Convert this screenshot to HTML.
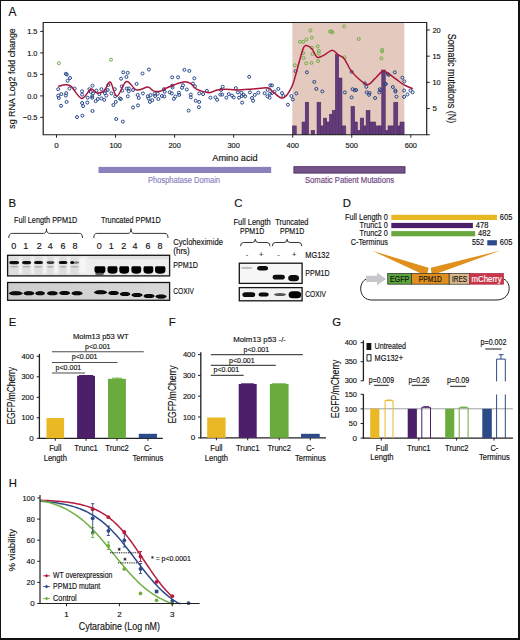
<!DOCTYPE html>
<html><head><meta charset="utf-8"><style>
html,body{margin:0;padding:0;background:#fff;width:520px;height:640px;overflow:hidden}
svg{display:block;position:absolute;left:0;top:0}
text{font-family:"Liberation Sans", sans-serif}
</style></head><body>
<svg width="520" height="640" viewBox="0 0 520 640">
<rect x="0" y="0" width="520" height="640" fill="#fff"/>
<rect x="292.30" y="22.50" width="112.00" height="112.25" fill="#e4c9be"/>
<rect x="292.30" y="125.90" width="4.00" height="8.85" fill="#643b7b" stroke="#4a2860" stroke-width="0.5"/>
<rect x="302.00" y="122.00" width="3.20" height="12.75" fill="#643b7b" stroke="#4a2860" stroke-width="0.5"/>
<rect x="305.20" y="102.20" width="3.55" height="32.55" fill="#643b7b" stroke="#4a2860" stroke-width="0.5"/>
<rect x="311.10" y="130.30" width="3.60" height="4.45" fill="#643b7b" stroke="#4a2860" stroke-width="0.5"/>
<rect x="317.00" y="102.20" width="3.80" height="32.55" fill="#643b7b" stroke="#4a2860" stroke-width="0.5"/>
<rect x="320.80" y="125.90" width="2.50" height="8.85" fill="#643b7b" stroke="#4a2860" stroke-width="0.5"/>
<rect x="323.30" y="118.10" width="3.40" height="16.65" fill="#643b7b" stroke="#4a2860" stroke-width="0.5"/>
<rect x="326.70" y="122.00" width="2.70" height="12.75" fill="#643b7b" stroke="#4a2860" stroke-width="0.5"/>
<rect x="329.40" y="114.20" width="2.80" height="20.55" fill="#643b7b" stroke="#4a2860" stroke-width="0.5"/>
<rect x="332.20" y="110.30" width="3.10" height="24.45" fill="#643b7b" stroke="#4a2860" stroke-width="0.5"/>
<rect x="335.30" y="54.40" width="3.45" height="80.35" fill="#643b7b" stroke="#4a2860" stroke-width="0.5"/>
<rect x="338.75" y="78.00" width="3.25" height="56.75" fill="#643b7b" stroke="#4a2860" stroke-width="0.5"/>
<rect x="342.00" y="125.90" width="3.80" height="8.85" fill="#643b7b" stroke="#4a2860" stroke-width="0.5"/>
<rect x="351.00" y="106.40" width="3.70" height="28.35" fill="#643b7b" stroke="#4a2860" stroke-width="0.5"/>
<rect x="354.70" y="122.00" width="2.80" height="12.75" fill="#643b7b" stroke="#4a2860" stroke-width="0.5"/>
<rect x="357.50" y="130.30" width="2.70" height="4.45" fill="#643b7b" stroke="#4a2860" stroke-width="0.5"/>
<rect x="360.20" y="118.10" width="3.55" height="16.65" fill="#643b7b" stroke="#4a2860" stroke-width="0.5"/>
<rect x="363.75" y="125.90" width="2.35" height="8.85" fill="#643b7b" stroke="#4a2860" stroke-width="0.5"/>
<rect x="366.10" y="110.30" width="3.90" height="24.45" fill="#643b7b" stroke="#4a2860" stroke-width="0.5"/>
<rect x="370.00" y="122.00" width="2.80" height="12.75" fill="#643b7b" stroke="#4a2860" stroke-width="0.5"/>
<rect x="372.80" y="122.00" width="3.00" height="12.75" fill="#643b7b" stroke="#4a2860" stroke-width="0.5"/>
<rect x="375.80" y="125.90" width="3.20" height="8.85" fill="#643b7b" stroke="#4a2860" stroke-width="0.5"/>
<rect x="379.00" y="125.90" width="2.70" height="8.85" fill="#643b7b" stroke="#4a2860" stroke-width="0.5"/>
<rect x="381.70" y="70.00" width="3.60" height="64.75" fill="#643b7b" stroke="#4a2860" stroke-width="0.5"/>
<rect x="385.30" y="130.30" width="2.70" height="4.45" fill="#643b7b" stroke="#4a2860" stroke-width="0.5"/>
<rect x="388.00" y="125.90" width="3.10" height="8.85" fill="#643b7b" stroke="#4a2860" stroke-width="0.5"/>
<rect x="391.10" y="125.90" width="2.65" height="8.85" fill="#643b7b" stroke="#4a2860" stroke-width="0.5"/>
<rect x="393.75" y="102.20" width="4.05" height="32.55" fill="#643b7b" stroke="#4a2860" stroke-width="0.5"/>
<rect x="397.80" y="125.90" width="2.20" height="8.85" fill="#643b7b" stroke="#4a2860" stroke-width="0.5"/>
<rect x="400.00" y="122.00" width="4.10" height="12.75" fill="#643b7b" stroke="#4a2860" stroke-width="0.5"/>
<circle cx="65.8" cy="73.8" r="1.5" fill="none" stroke="#27478a" stroke-width="1.0"/>
<circle cx="66.9" cy="74.5" r="1.5" fill="none" stroke="#27478a" stroke-width="1.0"/>
<circle cx="70" cy="78" r="1.5" fill="none" stroke="#27478a" stroke-width="1.0"/>
<circle cx="67.6" cy="80.8" r="1.5" fill="none" stroke="#27478a" stroke-width="1.0"/>
<circle cx="58.2" cy="89.2" r="1.5" fill="none" stroke="#27478a" stroke-width="1.0"/>
<circle cx="69.4" cy="88.5" r="1.5" fill="none" stroke="#27478a" stroke-width="1.0"/>
<circle cx="74.6" cy="88.5" r="1.5" fill="none" stroke="#27478a" stroke-width="1.0"/>
<circle cx="58.2" cy="95.6" r="1.5" fill="none" stroke="#27478a" stroke-width="1.0"/>
<circle cx="61.3" cy="94.1" r="1.5" fill="none" stroke="#27478a" stroke-width="1.0"/>
<circle cx="58.8" cy="98" r="1.5" fill="none" stroke="#27478a" stroke-width="1.0"/>
<circle cx="66.2" cy="93.2" r="1.5" fill="none" stroke="#27478a" stroke-width="1.0"/>
<circle cx="65.8" cy="95.6" r="1.5" fill="none" stroke="#27478a" stroke-width="1.0"/>
<circle cx="66.6" cy="101.9" r="1.5" fill="none" stroke="#27478a" stroke-width="1.0"/>
<circle cx="61" cy="105.8" r="1.5" fill="none" stroke="#27478a" stroke-width="1.0"/>
<circle cx="82.1" cy="91.3" r="1.5" fill="none" stroke="#27478a" stroke-width="1.0"/>
<circle cx="82.1" cy="94.6" r="1.5" fill="none" stroke="#27478a" stroke-width="1.0"/>
<circle cx="82.1" cy="103" r="1.5" fill="none" stroke="#27478a" stroke-width="1.0"/>
<circle cx="83.1" cy="106.1" r="1.5" fill="none" stroke="#27478a" stroke-width="1.0"/>
<circle cx="87.7" cy="97.7" r="1.5" fill="none" stroke="#27478a" stroke-width="1.0"/>
<circle cx="87.3" cy="102.6" r="1.5" fill="none" stroke="#27478a" stroke-width="1.0"/>
<circle cx="92.5" cy="85.7" r="1.5" fill="none" stroke="#27478a" stroke-width="1.0"/>
<circle cx="89.4" cy="89.2" r="1.5" fill="none" stroke="#27478a" stroke-width="1.0"/>
<circle cx="90.8" cy="92" r="1.5" fill="none" stroke="#27478a" stroke-width="1.0"/>
<circle cx="93" cy="93.4" r="1.5" fill="none" stroke="#27478a" stroke-width="1.0"/>
<circle cx="92.2" cy="96.3" r="1.5" fill="none" stroke="#27478a" stroke-width="1.0"/>
<circle cx="96.4" cy="90.6" r="1.5" fill="none" stroke="#27478a" stroke-width="1.0"/>
<circle cx="99.3" cy="94.1" r="1.5" fill="none" stroke="#27478a" stroke-width="1.0"/>
<circle cx="95.7" cy="101.2" r="1.5" fill="none" stroke="#27478a" stroke-width="1.0"/>
<circle cx="97.9" cy="99" r="1.5" fill="none" stroke="#27478a" stroke-width="1.0"/>
<circle cx="101.4" cy="89.2" r="1.5" fill="none" stroke="#27478a" stroke-width="1.0"/>
<circle cx="101.4" cy="98.4" r="1.5" fill="none" stroke="#27478a" stroke-width="1.0"/>
<circle cx="92.5" cy="111" r="1.5" fill="none" stroke="#27478a" stroke-width="1.0"/>
<circle cx="77" cy="117.1" r="1.5" fill="none" stroke="#27478a" stroke-width="1.0"/>
<circle cx="82.4" cy="115.7" r="1.5" fill="none" stroke="#27478a" stroke-width="1.0"/>
<circle cx="92.2" cy="97.7" r="1.5" fill="none" stroke="#27478a" stroke-width="1.0"/>
<circle cx="123.2" cy="72.3" r="1.5" fill="none" stroke="#27478a" stroke-width="1.0"/>
<circle cx="127.7" cy="72.8" r="1.5" fill="none" stroke="#27478a" stroke-width="1.0"/>
<circle cx="126.4" cy="77" r="1.5" fill="none" stroke="#27478a" stroke-width="1.0"/>
<circle cx="121.1" cy="78.7" r="1.5" fill="none" stroke="#27478a" stroke-width="1.0"/>
<circle cx="142.5" cy="73.5" r="1.5" fill="none" stroke="#27478a" stroke-width="1.0"/>
<circle cx="148.9" cy="69.5" r="1.5" fill="none" stroke="#27478a" stroke-width="1.0"/>
<circle cx="136.6" cy="83.9" r="1.5" fill="none" stroke="#27478a" stroke-width="1.0"/>
<circle cx="105.6" cy="90.6" r="1.5" fill="none" stroke="#27478a" stroke-width="1.0"/>
<circle cx="107.7" cy="90" r="1.5" fill="none" stroke="#27478a" stroke-width="1.0"/>
<circle cx="104.9" cy="93.2" r="1.5" fill="none" stroke="#27478a" stroke-width="1.0"/>
<circle cx="106.3" cy="95.6" r="1.5" fill="none" stroke="#27478a" stroke-width="1.0"/>
<circle cx="104.2" cy="99.8" r="1.5" fill="none" stroke="#27478a" stroke-width="1.0"/>
<circle cx="108.4" cy="85" r="1.5" fill="none" stroke="#27478a" stroke-width="1.0"/>
<circle cx="111.3" cy="93.4" r="1.5" fill="none" stroke="#27478a" stroke-width="1.0"/>
<circle cx="114.8" cy="89.2" r="1.5" fill="none" stroke="#27478a" stroke-width="1.0"/>
<circle cx="115.2" cy="96.3" r="1.5" fill="none" stroke="#27478a" stroke-width="1.0"/>
<circle cx="115.8" cy="101.9" r="1.5" fill="none" stroke="#27478a" stroke-width="1.0"/>
<circle cx="113.4" cy="105" r="1.5" fill="none" stroke="#27478a" stroke-width="1.0"/>
<circle cx="119.7" cy="98.4" r="1.5" fill="none" stroke="#27478a" stroke-width="1.0"/>
<circle cx="120.8" cy="99" r="1.5" fill="none" stroke="#27478a" stroke-width="1.0"/>
<circle cx="121.8" cy="86.4" r="1.5" fill="none" stroke="#27478a" stroke-width="1.0"/>
<circle cx="122.2" cy="90.6" r="1.5" fill="none" stroke="#27478a" stroke-width="1.0"/>
<circle cx="126.7" cy="88.5" r="1.5" fill="none" stroke="#27478a" stroke-width="1.0"/>
<circle cx="128.8" cy="88.5" r="1.5" fill="none" stroke="#27478a" stroke-width="1.0"/>
<circle cx="128.8" cy="91.3" r="1.5" fill="none" stroke="#27478a" stroke-width="1.0"/>
<circle cx="133" cy="90" r="1.5" fill="none" stroke="#27478a" stroke-width="1.0"/>
<circle cx="127.8" cy="96.3" r="1.5" fill="none" stroke="#27478a" stroke-width="1.0"/>
<circle cx="137.7" cy="94.9" r="1.5" fill="none" stroke="#27478a" stroke-width="1.0"/>
<circle cx="138.7" cy="98" r="1.5" fill="none" stroke="#27478a" stroke-width="1.0"/>
<circle cx="138" cy="105.4" r="1.5" fill="none" stroke="#27478a" stroke-width="1.0"/>
<circle cx="133" cy="107.5" r="1.5" fill="none" stroke="#27478a" stroke-width="1.0"/>
<circle cx="142.9" cy="93.4" r="1.5" fill="none" stroke="#27478a" stroke-width="1.0"/>
<circle cx="147.8" cy="96.3" r="1.5" fill="none" stroke="#27478a" stroke-width="1.0"/>
<circle cx="148.5" cy="98.4" r="1.5" fill="none" stroke="#27478a" stroke-width="1.0"/>
<circle cx="150.6" cy="95.1" r="1.5" fill="none" stroke="#27478a" stroke-width="1.0"/>
<circle cx="149.9" cy="101.9" r="1.5" fill="none" stroke="#27478a" stroke-width="1.0"/>
<circle cx="152.3" cy="100.2" r="1.5" fill="none" stroke="#27478a" stroke-width="1.0"/>
<circle cx="154.6" cy="93.7" r="1.5" fill="none" stroke="#27478a" stroke-width="1.0"/>
<circle cx="155.1" cy="96" r="1.5" fill="none" stroke="#27478a" stroke-width="1.0"/>
<circle cx="157.7" cy="93.7" r="1.5" fill="none" stroke="#27478a" stroke-width="1.0"/>
<circle cx="158.4" cy="99" r="1.5" fill="none" stroke="#27478a" stroke-width="1.0"/>
<circle cx="116.2" cy="119" r="1.5" fill="none" stroke="#27478a" stroke-width="1.0"/>
<circle cx="122.8" cy="121.6" r="1.5" fill="none" stroke="#27478a" stroke-width="1.0"/>
<circle cx="184.4" cy="69.8" r="1.5" fill="none" stroke="#27478a" stroke-width="1.0"/>
<circle cx="189.3" cy="70.9" r="1.5" fill="none" stroke="#27478a" stroke-width="1.0"/>
<circle cx="172.2" cy="77.3" r="1.5" fill="none" stroke="#27478a" stroke-width="1.0"/>
<circle cx="178.1" cy="77.3" r="1.5" fill="none" stroke="#27478a" stroke-width="1.0"/>
<circle cx="194.3" cy="78.3" r="1.5" fill="none" stroke="#27478a" stroke-width="1.0"/>
<circle cx="192.9" cy="83.6" r="1.5" fill="none" stroke="#27478a" stroke-width="1.0"/>
<circle cx="195" cy="86.4" r="1.5" fill="none" stroke="#27478a" stroke-width="1.0"/>
<circle cx="172.2" cy="85.7" r="1.5" fill="none" stroke="#27478a" stroke-width="1.0"/>
<circle cx="172.5" cy="87.5" r="1.5" fill="none" stroke="#27478a" stroke-width="1.0"/>
<circle cx="183" cy="85.3" r="1.5" fill="none" stroke="#27478a" stroke-width="1.0"/>
<circle cx="182" cy="87.8" r="1.5" fill="none" stroke="#27478a" stroke-width="1.0"/>
<circle cx="186.8" cy="89.5" r="1.5" fill="none" stroke="#27478a" stroke-width="1.0"/>
<circle cx="164" cy="89.2" r="1.5" fill="none" stroke="#27478a" stroke-width="1.0"/>
<circle cx="164.7" cy="91.8" r="1.5" fill="none" stroke="#27478a" stroke-width="1.0"/>
<circle cx="161.9" cy="96" r="1.5" fill="none" stroke="#27478a" stroke-width="1.0"/>
<circle cx="164.3" cy="96.5" r="1.5" fill="none" stroke="#27478a" stroke-width="1.0"/>
<circle cx="169.7" cy="92.3" r="1.5" fill="none" stroke="#27478a" stroke-width="1.0"/>
<circle cx="171.8" cy="93.4" r="1.5" fill="none" stroke="#27478a" stroke-width="1.0"/>
<circle cx="178.8" cy="92.7" r="1.5" fill="none" stroke="#27478a" stroke-width="1.0"/>
<circle cx="179.2" cy="94.9" r="1.5" fill="none" stroke="#27478a" stroke-width="1.0"/>
<circle cx="175.3" cy="96.5" r="1.5" fill="none" stroke="#27478a" stroke-width="1.0"/>
<circle cx="173.9" cy="98.8" r="1.5" fill="none" stroke="#27478a" stroke-width="1.0"/>
<circle cx="190.8" cy="94.6" r="1.5" fill="none" stroke="#27478a" stroke-width="1.0"/>
<circle cx="190.8" cy="97.4" r="1.5" fill="none" stroke="#27478a" stroke-width="1.0"/>
<circle cx="195.7" cy="100.8" r="1.5" fill="none" stroke="#27478a" stroke-width="1.0"/>
<circle cx="199.2" cy="101.9" r="1.5" fill="none" stroke="#27478a" stroke-width="1.0"/>
<circle cx="199.2" cy="93.4" r="1.5" fill="none" stroke="#27478a" stroke-width="1.0"/>
<circle cx="203.1" cy="94.1" r="1.5" fill="none" stroke="#27478a" stroke-width="1.0"/>
<circle cx="206.9" cy="90.9" r="1.5" fill="none" stroke="#27478a" stroke-width="1.0"/>
<circle cx="210.4" cy="97.7" r="1.5" fill="none" stroke="#27478a" stroke-width="1.0"/>
<circle cx="215.4" cy="97.4" r="1.5" fill="none" stroke="#27478a" stroke-width="1.0"/>
<circle cx="198.9" cy="107.2" r="1.5" fill="none" stroke="#27478a" stroke-width="1.0"/>
<circle cx="188.6" cy="110.6" r="1.5" fill="none" stroke="#27478a" stroke-width="1.0"/>
<circle cx="249.2" cy="76.8" r="1.5" fill="none" stroke="#27478a" stroke-width="1.0"/>
<circle cx="222.7" cy="86.7" r="1.5" fill="none" stroke="#27478a" stroke-width="1.0"/>
<circle cx="221" cy="89.9" r="1.5" fill="none" stroke="#27478a" stroke-width="1.0"/>
<circle cx="235.8" cy="88.1" r="1.5" fill="none" stroke="#27478a" stroke-width="1.0"/>
<circle cx="270.3" cy="85.3" r="1.5" fill="none" stroke="#27478a" stroke-width="1.0"/>
<circle cx="267.7" cy="89.9" r="1.5" fill="none" stroke="#27478a" stroke-width="1.0"/>
<circle cx="217.1" cy="99.8" r="1.5" fill="none" stroke="#27478a" stroke-width="1.0"/>
<circle cx="220.3" cy="94.6" r="1.5" fill="none" stroke="#27478a" stroke-width="1.0"/>
<circle cx="222.2" cy="94.6" r="1.5" fill="none" stroke="#27478a" stroke-width="1.0"/>
<circle cx="226.4" cy="97.7" r="1.5" fill="none" stroke="#27478a" stroke-width="1.0"/>
<circle cx="228.8" cy="94.1" r="1.5" fill="none" stroke="#27478a" stroke-width="1.0"/>
<circle cx="232" cy="95.6" r="1.5" fill="none" stroke="#27478a" stroke-width="1.0"/>
<circle cx="233.7" cy="97.4" r="1.5" fill="none" stroke="#27478a" stroke-width="1.0"/>
<circle cx="237.9" cy="92.3" r="1.5" fill="none" stroke="#27478a" stroke-width="1.0"/>
<circle cx="239" cy="97.7" r="1.5" fill="none" stroke="#27478a" stroke-width="1.0"/>
<circle cx="241.4" cy="92.7" r="1.5" fill="none" stroke="#27478a" stroke-width="1.0"/>
<circle cx="241.8" cy="96" r="1.5" fill="none" stroke="#27478a" stroke-width="1.0"/>
<circle cx="243.5" cy="94.9" r="1.5" fill="none" stroke="#27478a" stroke-width="1.0"/>
<circle cx="245.2" cy="96.3" r="1.5" fill="none" stroke="#27478a" stroke-width="1.0"/>
<circle cx="249.9" cy="92.3" r="1.5" fill="none" stroke="#27478a" stroke-width="1.0"/>
<circle cx="252" cy="98" r="1.5" fill="none" stroke="#27478a" stroke-width="1.0"/>
<circle cx="253.1" cy="100.8" r="1.5" fill="none" stroke="#27478a" stroke-width="1.0"/>
<circle cx="254.8" cy="94.9" r="1.5" fill="none" stroke="#27478a" stroke-width="1.0"/>
<circle cx="258.3" cy="92.7" r="1.5" fill="none" stroke="#27478a" stroke-width="1.0"/>
<circle cx="264.6" cy="93.2" r="1.5" fill="none" stroke="#27478a" stroke-width="1.0"/>
<circle cx="267.4" cy="96.3" r="1.5" fill="none" stroke="#27478a" stroke-width="1.0"/>
<circle cx="270" cy="93.7" r="1.5" fill="none" stroke="#27478a" stroke-width="1.0"/>
<circle cx="269.6" cy="97.7" r="1.5" fill="none" stroke="#27478a" stroke-width="1.0"/>
<circle cx="242.1" cy="102.6" r="1.5" fill="none" stroke="#27478a" stroke-width="1.0"/>
<circle cx="295.6" cy="71.3" r="1.5" fill="none" stroke="#27478a" stroke-width="1.0"/>
<circle cx="306.9" cy="72.3" r="1.5" fill="none" stroke="#27478a" stroke-width="1.0"/>
<circle cx="314.3" cy="81.9" r="1.5" fill="none" stroke="#27478a" stroke-width="1.0"/>
<circle cx="316.3" cy="88.9" r="1.5" fill="none" stroke="#27478a" stroke-width="1.0"/>
<circle cx="322.3" cy="91.4" r="1.5" fill="none" stroke="#27478a" stroke-width="1.0"/>
<circle cx="296.3" cy="93.4" r="1.5" fill="none" stroke="#27478a" stroke-width="1.0"/>
<circle cx="291.4" cy="96" r="1.5" fill="none" stroke="#27478a" stroke-width="1.0"/>
<circle cx="292.8" cy="99.5" r="1.5" fill="none" stroke="#27478a" stroke-width="1.0"/>
<circle cx="287.9" cy="104.7" r="1.5" fill="none" stroke="#27478a" stroke-width="1.0"/>
<circle cx="278.3" cy="88.9" r="1.5" fill="none" stroke="#27478a" stroke-width="1.0"/>
<circle cx="274.5" cy="91.7" r="1.5" fill="none" stroke="#27478a" stroke-width="1.0"/>
<circle cx="282" cy="93.1" r="1.5" fill="none" stroke="#27478a" stroke-width="1.0"/>
<circle cx="283.4" cy="96" r="1.5" fill="none" stroke="#27478a" stroke-width="1.0"/>
<circle cx="272" cy="85.4" r="1.5" fill="none" stroke="#27478a" stroke-width="1.0"/>
<circle cx="272" cy="93.1" r="1.5" fill="none" stroke="#27478a" stroke-width="1.0"/>
<circle cx="351.6" cy="71.8" r="1.5" fill="none" stroke="#27478a" stroke-width="1.0"/>
<circle cx="364.8" cy="83.3" r="1.5" fill="none" stroke="#27478a" stroke-width="1.0"/>
<circle cx="366.3" cy="86.8" r="1.5" fill="none" stroke="#27478a" stroke-width="1.0"/>
<circle cx="344.9" cy="92.4" r="1.5" fill="none" stroke="#27478a" stroke-width="1.0"/>
<circle cx="352.6" cy="89.2" r="1.5" fill="none" stroke="#27478a" stroke-width="1.0"/>
<circle cx="354.7" cy="90.3" r="1.5" fill="none" stroke="#27478a" stroke-width="1.0"/>
<circle cx="356.1" cy="90" r="1.5" fill="none" stroke="#27478a" stroke-width="1.0"/>
<circle cx="351.6" cy="97.4" r="1.5" fill="none" stroke="#27478a" stroke-width="1.0"/>
<circle cx="366.7" cy="92.4" r="1.5" fill="none" stroke="#27478a" stroke-width="1.0"/>
<circle cx="369.5" cy="92.9" r="1.5" fill="none" stroke="#27478a" stroke-width="1.0"/>
<circle cx="369.1" cy="94.8" r="1.5" fill="none" stroke="#27478a" stroke-width="1.0"/>
<circle cx="375.1" cy="98" r="1.5" fill="none" stroke="#27478a" stroke-width="1.0"/>
<circle cx="379.8" cy="89.2" r="1.5" fill="none" stroke="#27478a" stroke-width="1.0"/>
<circle cx="379.3" cy="92.4" r="1.5" fill="none" stroke="#27478a" stroke-width="1.0"/>
<circle cx="385.7" cy="84" r="1.5" fill="none" stroke="#27478a" stroke-width="1.0"/>
<circle cx="387.8" cy="74.1" r="1.5" fill="none" stroke="#27478a" stroke-width="1.0"/>
<circle cx="394.8" cy="72.3" r="1.5" fill="none" stroke="#27478a" stroke-width="1.0"/>
<circle cx="388.8" cy="74.8" r="1.5" fill="none" stroke="#27478a" stroke-width="1.0"/>
<circle cx="402.4" cy="77.7" r="1.5" fill="none" stroke="#27478a" stroke-width="1.0"/>
<circle cx="404.3" cy="81.4" r="1.5" fill="none" stroke="#27478a" stroke-width="1.0"/>
<circle cx="385.5" cy="84" r="1.5" fill="none" stroke="#27478a" stroke-width="1.0"/>
<circle cx="392.9" cy="87" r="1.5" fill="none" stroke="#27478a" stroke-width="1.0"/>
<circle cx="395.3" cy="90.5" r="1.5" fill="none" stroke="#27478a" stroke-width="1.0"/>
<circle cx="395.5" cy="91.6" r="1.5" fill="none" stroke="#27478a" stroke-width="1.0"/>
<circle cx="404.1" cy="90.5" r="1.5" fill="none" stroke="#27478a" stroke-width="1.0"/>
<circle cx="410.4" cy="90.5" r="1.5" fill="none" stroke="#27478a" stroke-width="1.0"/>
<circle cx="412.6" cy="92.3" r="1.5" fill="none" stroke="#27478a" stroke-width="1.0"/>
<circle cx="407.4" cy="94.5" r="1.5" fill="none" stroke="#27478a" stroke-width="1.0"/>
<circle cx="404.1" cy="96.9" r="1.5" fill="none" stroke="#27478a" stroke-width="1.0"/>
<circle cx="396.4" cy="96.7" r="1.5" fill="none" stroke="#27478a" stroke-width="1.0"/>
<circle cx="380.5" cy="90.3" r="1.5" fill="none" stroke="#27478a" stroke-width="1.0"/>
<circle cx="58.8" cy="63.2" r="1.5" fill="none" stroke="#6fae45" stroke-width="1.0"/>
<circle cx="111" cy="59.7" r="1.5" fill="none" stroke="#6fae45" stroke-width="1.0"/>
<circle cx="310.4" cy="30.5" r="1.5" fill="none" stroke="#6fae45" stroke-width="1.0"/>
<circle cx="330.1" cy="31.5" r="1.5" fill="none" stroke="#6fae45" stroke-width="1.0"/>
<circle cx="311.8" cy="37.6" r="1.5" fill="none" stroke="#6fae45" stroke-width="1.0"/>
<circle cx="306.4" cy="39.4" r="1.5" fill="none" stroke="#6fae45" stroke-width="1.0"/>
<circle cx="299.8" cy="41.8" r="1.5" fill="none" stroke="#6fae45" stroke-width="1.0"/>
<circle cx="303.1" cy="41.8" r="1.5" fill="none" stroke="#6fae45" stroke-width="1.0"/>
<circle cx="317.7" cy="46.4" r="1.5" fill="none" stroke="#6fae45" stroke-width="1.0"/>
<circle cx="311.8" cy="47.8" r="1.5" fill="none" stroke="#6fae45" stroke-width="1.0"/>
<circle cx="318.8" cy="50.9" r="1.5" fill="none" stroke="#6fae45" stroke-width="1.0"/>
<circle cx="303.1" cy="53" r="1.5" fill="none" stroke="#6fae45" stroke-width="1.0"/>
<circle cx="318.8" cy="53.5" r="1.5" fill="none" stroke="#6fae45" stroke-width="1.0"/>
<circle cx="312.5" cy="54" r="1.5" fill="none" stroke="#6fae45" stroke-width="1.0"/>
<circle cx="303.6" cy="58" r="1.5" fill="none" stroke="#6fae45" stroke-width="1.0"/>
<circle cx="306.2" cy="63.3" r="1.5" fill="none" stroke="#6fae45" stroke-width="1.0"/>
<circle cx="311.5" cy="62.9" r="1.5" fill="none" stroke="#6fae45" stroke-width="1.0"/>
<circle cx="318.1" cy="61.1" r="1.5" fill="none" stroke="#6fae45" stroke-width="1.0"/>
<circle cx="294.9" cy="65.3" r="1.5" fill="none" stroke="#6fae45" stroke-width="1.0"/>
<circle cx="344.2" cy="26.3" r="1.5" fill="none" stroke="#6fae45" stroke-width="1.0"/>
<circle cx="331.5" cy="31.5" r="1.5" fill="none" stroke="#6fae45" stroke-width="1.0"/>
<circle cx="332.5" cy="32.4" r="1.5" fill="none" stroke="#6fae45" stroke-width="1.0"/>
<circle cx="358.7" cy="39" r="1.5" fill="none" stroke="#6fae45" stroke-width="1.0"/>
<circle cx="382.1" cy="49.8" r="1.5" fill="none" stroke="#6fae45" stroke-width="1.0"/>
<circle cx="382.1" cy="51.6" r="1.5" fill="none" stroke="#6fae45" stroke-width="1.0"/>
<circle cx="381.4" cy="58.3" r="1.5" fill="none" stroke="#6fae45" stroke-width="1.0"/>
<circle cx="344.6" cy="57.3" r="1.5" fill="none" stroke="#6fae45" stroke-width="1.0"/>
<path d="M58.20,86.40 C59.42,86.12 63.35,84.70 65.50,84.70 C67.65,84.70 68.40,84.12 71.10,86.40 C73.80,88.68 78.42,97.93 81.70,98.40 C84.98,98.87 88.35,90.15 90.80,89.20 C93.25,88.25 94.37,92.27 96.40,92.70 C98.43,93.13 101.47,92.50 103.00,91.80 C104.53,91.10 104.35,90.10 105.60,88.50 C106.85,86.90 108.62,80.90 110.50,82.20 C112.38,83.50 114.25,96.42 116.90,96.30 C119.55,96.18 123.12,82.55 126.40,81.50 C129.68,80.45 133.03,89.07 136.60,90.00 C140.17,90.93 145.00,86.95 147.80,87.10 C150.60,87.25 151.37,90.20 153.40,90.90 C155.43,91.60 158.00,91.70 160.00,91.30 C162.00,90.90 163.08,89.55 165.40,88.50 C167.72,87.45 170.85,86.10 173.90,85.00 C176.95,83.90 180.88,82.13 183.70,81.90 C186.52,81.67 188.68,82.38 190.80,83.60 C192.92,84.82 193.37,87.68 196.40,89.20 C199.43,90.72 205.57,92.58 209.00,92.70 C212.43,92.82 214.28,90.48 217.00,89.90 C219.72,89.32 222.05,89.18 225.30,89.20 C228.55,89.22 232.28,90.00 236.50,90.00 C240.72,90.00 245.68,89.57 250.60,89.20 C255.52,88.83 262.83,87.92 266.00,87.80 C269.17,87.68 268.27,87.68 269.60,88.50 C270.93,89.32 271.77,91.12 274.00,92.70 C276.23,94.28 279.98,99.10 283.00,98.00 C286.02,96.90 289.42,92.07 292.10,86.10 C294.78,80.13 297.23,68.53 299.10,62.20 C300.97,55.87 302.12,50.87 303.30,48.10 C304.48,45.33 304.78,45.48 306.20,45.60 C307.62,45.72 309.93,46.85 311.80,48.80 C313.67,50.75 315.30,56.28 317.40,57.30 C319.50,58.32 321.93,56.08 324.40,54.90 C326.87,53.72 329.97,50.27 332.20,50.20 C334.43,50.13 335.80,53.08 337.80,54.50 C339.80,55.92 342.08,56.13 344.20,58.70 C346.32,61.27 348.28,66.73 350.50,69.90 C352.72,73.07 354.68,75.23 357.50,77.70 C360.32,80.17 364.58,84.47 367.40,84.70 C370.22,84.93 371.85,81.35 374.40,79.10 C376.95,76.85 380.30,72.07 382.70,71.20 C385.10,70.33 386.52,72.53 388.80,73.90 C391.08,75.27 393.85,77.57 396.40,79.40 C398.95,81.23 401.37,83.35 404.10,84.90 C406.83,86.45 411.35,88.07 412.80,88.70" fill="none" stroke="#a9163a" stroke-width="1.5"/>
<path d="M43.2,22.5 H426.7 V134.75 H43.2 Z" fill="none" stroke="#231f20" stroke-width="1.2"/>
<line x1="40.2" y1="31.400000000000006" x2="43.2" y2="31.400000000000006" stroke="#231f20" stroke-width="1"/>
<text x="37.5" y="34.00000000000001" font-size="7.99" text-anchor="end" fill="#111" stroke="#111" stroke-width="0.15" textLength="10.29" lengthAdjust="spacingAndGlyphs">1.5</text>
<line x1="40.2" y1="52.900000000000006" x2="43.2" y2="52.900000000000006" stroke="#231f20" stroke-width="1"/>
<text x="37.5" y="55.50000000000001" font-size="7.99" text-anchor="end" fill="#111" stroke="#111" stroke-width="0.15" textLength="10.29" lengthAdjust="spacingAndGlyphs">1.0</text>
<line x1="40.2" y1="74.4" x2="43.2" y2="74.4" stroke="#231f20" stroke-width="1"/>
<text x="37.5" y="77.0" font-size="7.99" text-anchor="end" fill="#111" stroke="#111" stroke-width="0.15" textLength="10.29" lengthAdjust="spacingAndGlyphs">0.5</text>
<line x1="40.2" y1="95.9" x2="43.2" y2="95.9" stroke="#231f20" stroke-width="1"/>
<text x="37.5" y="98.5" font-size="7.99" text-anchor="end" fill="#111" stroke="#111" stroke-width="0.15" textLength="10.29" lengthAdjust="spacingAndGlyphs">0.0</text>
<line x1="40.2" y1="117.4" x2="43.2" y2="117.4" stroke="#231f20" stroke-width="1"/>
<text x="37.5" y="120.0" font-size="7.99" text-anchor="end" fill="#111" stroke="#111" stroke-width="0.15" textLength="14.61" lengthAdjust="spacingAndGlyphs">−0.5</text>
<line x1="426.7" y1="108.55" x2="429.8" y2="108.55" stroke="#231f20" stroke-width="1"/>
<text x="432.5" y="111.14999999999999" font-size="7.99" text-anchor="start" fill="#111" stroke="#111" stroke-width="0.15">5</text>
<line x1="426.7" y1="82.35" x2="429.8" y2="82.35" stroke="#231f20" stroke-width="1"/>
<text x="432.5" y="84.94999999999999" font-size="7.99" text-anchor="start" fill="#111" stroke="#111" stroke-width="0.15" textLength="8.23" lengthAdjust="spacingAndGlyphs">10</text>
<line x1="426.7" y1="56.14999999999999" x2="429.8" y2="56.14999999999999" stroke="#231f20" stroke-width="1"/>
<text x="432.5" y="58.74999999999999" font-size="7.99" text-anchor="start" fill="#111" stroke="#111" stroke-width="0.15" textLength="8.23" lengthAdjust="spacingAndGlyphs">15</text>
<line x1="426.7" y1="29.94999999999999" x2="429.8" y2="29.94999999999999" stroke="#231f20" stroke-width="1"/>
<text x="432.5" y="32.54999999999999" font-size="7.99" text-anchor="start" fill="#111" stroke="#111" stroke-width="0.15" textLength="8.23" lengthAdjust="spacingAndGlyphs">20</text>
<line x1="426.7" y1="134.75" x2="429.8" y2="134.75" stroke="#231f20" stroke-width="1"/>
<line x1="56.5" y1="134.75" x2="56.5" y2="137.7" stroke="#231f20" stroke-width="1"/>
<text x="56.5" y="148" font-size="7.99" text-anchor="middle" fill="#111" stroke="#111" stroke-width="0.15">0</text>
<line x1="115.55000000000001" y1="134.75" x2="115.55000000000001" y2="137.7" stroke="#231f20" stroke-width="1"/>
<text x="115.55000000000001" y="148" font-size="7.99" text-anchor="middle" fill="#111" stroke="#111" stroke-width="0.15" textLength="12.35" lengthAdjust="spacingAndGlyphs">100</text>
<line x1="174.60000000000002" y1="134.75" x2="174.60000000000002" y2="137.7" stroke="#231f20" stroke-width="1"/>
<text x="174.60000000000002" y="148" font-size="7.99" text-anchor="middle" fill="#111" stroke="#111" stroke-width="0.15" textLength="12.35" lengthAdjust="spacingAndGlyphs">200</text>
<line x1="233.65" y1="134.75" x2="233.65" y2="137.7" stroke="#231f20" stroke-width="1"/>
<text x="233.65" y="148" font-size="7.99" text-anchor="middle" fill="#111" stroke="#111" stroke-width="0.15" textLength="12.35" lengthAdjust="spacingAndGlyphs">300</text>
<line x1="292.70000000000005" y1="134.75" x2="292.70000000000005" y2="137.7" stroke="#231f20" stroke-width="1"/>
<text x="292.70000000000005" y="148" font-size="7.99" text-anchor="middle" fill="#111" stroke="#111" stroke-width="0.15" textLength="12.35" lengthAdjust="spacingAndGlyphs">400</text>
<line x1="351.75" y1="134.75" x2="351.75" y2="137.7" stroke="#231f20" stroke-width="1"/>
<text x="351.75" y="148" font-size="7.99" text-anchor="middle" fill="#111" stroke="#111" stroke-width="0.15" textLength="12.35" lengthAdjust="spacingAndGlyphs">500</text>
<line x1="410.8" y1="134.75" x2="410.8" y2="137.7" stroke="#231f20" stroke-width="1"/>
<text x="410.8" y="148" font-size="7.99" text-anchor="middle" fill="#111" stroke="#111" stroke-width="0.15" textLength="12.35" lengthAdjust="spacingAndGlyphs">600</text>
<text x="212.3" y="161.2" font-size="9.35" text-anchor="start" fill="#111" stroke="#111" stroke-width="0.15" textLength="45.4" lengthAdjust="spacingAndGlyphs">Amino acid</text>
<text x="15.0" y="128.8" font-size="9.79" text-anchor="start" fill="#111" stroke="#111" stroke-width="0.15" textLength="100.6" lengthAdjust="spacingAndGlyphs" transform="rotate(-90 15.0 128.8)">sg RNA Log2 fold change</text>
<text x="447.5" y="33.8" font-size="10.34" text-anchor="start" fill="#111" stroke="#111" stroke-width="0.15" textLength="89.5" lengthAdjust="spacingAndGlyphs" transform="rotate(90 447.5 33.8)">Somatic mutaitons (N)</text>
<text x="8.5" y="15.7" font-size="11.88" text-anchor="start" fill="#111" stroke="#111" stroke-width="0.15">A</text>
<rect x="98.50" y="166.90" width="172.70" height="6.10" fill="#8b81bd"/>
<rect x="293.90" y="166.70" width="111.10" height="6.40" fill="#74528a" stroke="#4f2c63" stroke-width="0.9"/>
<text x="148" y="183" font-size="8.36" text-anchor="start" fill="#8a80c0" stroke="#8a80c0" stroke-width="0.15" textLength="72" lengthAdjust="spacingAndGlyphs">Phosphatase Domain</text>
<text x="305" y="183.1" font-size="8.47" text-anchor="start" fill="#6b3d7d" stroke="#6b3d7d" stroke-width="0.15" textLength="89" lengthAdjust="spacingAndGlyphs">Somatic Patient Mutations</text>
<defs><filter id="b0" x="-30%" y="-80%" width="160%" height="260%"><feGaussianBlur stdDeviation="0.4"/></filter><filter id="b1" x="-30%" y="-60%" width="160%" height="220%"><feGaussianBlur stdDeviation="0.55"/></filter><filter id="b2" x="-30%" y="-60%" width="160%" height="220%"><feGaussianBlur stdDeviation="1.0"/></filter><linearGradient id="gB1" x1="0" x2="1" y1="0" y2="0"><stop offset="0" stop-color="#e2e2e2"/><stop offset="0.5" stop-color="#e8e8e8"/><stop offset="1" stop-color="#ededed"/></linearGradient><linearGradient id="gB2" x1="0" x2="1" y1="0" y2="0"><stop offset="0" stop-color="#cdcdcd"/><stop offset="1" stop-color="#d8d8d8"/></linearGradient></defs>
<text x="8.5" y="207.2" font-size="11.34" text-anchor="start" fill="#111" stroke="#111" stroke-width="0.15">B</text>
<text x="14" y="223" font-size="8.8" text-anchor="start" fill="#111" stroke="#111" stroke-width="0.15" textLength="63.3" lengthAdjust="spacingAndGlyphs">Full Length PPM1D</text>
<text x="101" y="223" font-size="8.8" text-anchor="start" fill="#111" stroke="#111" stroke-width="0.15" textLength="59.7" lengthAdjust="spacingAndGlyphs">Truncated PPM1D</text>
<path d="M8.8,238 Q8.8,233.4 11.8,233.4 L43.5,233.4 Q46.5,233.4 46.5,228.7 Q46.5,233.4 49.5,233.4 L79.5,233.4 Q82.5,233.4 82.5,238" fill="none" stroke="#231f20" stroke-width="0.9"/>
<path d="M93.8,238 Q93.8,233.4 96.8,233.4 L128.0,233.4 Q131,233.4 131,228.7 Q131,233.4 134.0,233.4 L165.0,233.4 Q168,233.4 168,238" fill="none" stroke="#231f20" stroke-width="0.9"/>
<text x="13.8" y="249.4" font-size="8.96" text-anchor="middle" fill="#111" stroke="#111" stroke-width="0.15">0</text>
<text x="25.8" y="249.4" font-size="8.96" text-anchor="middle" fill="#111" stroke="#111" stroke-width="0.15">1</text>
<text x="39.3" y="249.4" font-size="8.96" text-anchor="middle" fill="#111" stroke="#111" stroke-width="0.15">2</text>
<text x="50.3" y="249.4" font-size="8.96" text-anchor="middle" fill="#111" stroke="#111" stroke-width="0.15">4</text>
<text x="63" y="249.4" font-size="8.96" text-anchor="middle" fill="#111" stroke="#111" stroke-width="0.15">6</text>
<text x="75.1" y="249.4" font-size="8.96" text-anchor="middle" fill="#111" stroke="#111" stroke-width="0.15">8</text>
<text x="99.3" y="249.4" font-size="8.96" text-anchor="middle" fill="#111" stroke="#111" stroke-width="0.15">0</text>
<text x="111.3" y="249.4" font-size="8.96" text-anchor="middle" fill="#111" stroke="#111" stroke-width="0.15">1</text>
<text x="123.8" y="249.4" font-size="8.96" text-anchor="middle" fill="#111" stroke="#111" stroke-width="0.15">2</text>
<text x="135" y="249.4" font-size="8.96" text-anchor="middle" fill="#111" stroke="#111" stroke-width="0.15">4</text>
<text x="148" y="249.4" font-size="8.96" text-anchor="middle" fill="#111" stroke="#111" stroke-width="0.15">6</text>
<text x="160" y="249.4" font-size="8.96" text-anchor="middle" fill="#111" stroke="#111" stroke-width="0.15">8</text>
<text x="173.3" y="244.7" font-size="8.8" text-anchor="start" fill="#111" stroke="#111" stroke-width="0.15" textLength="49.6" lengthAdjust="spacingAndGlyphs">Cycloheximide</text>
<text x="173.3" y="253.8" font-size="8.8" text-anchor="start" fill="#111" stroke="#111" stroke-width="0.15" textLength="16.44" lengthAdjust="spacingAndGlyphs">(hrs)</text>
<text x="173.3" y="268" font-size="8.64" text-anchor="start" fill="#111" stroke="#111" stroke-width="0.15" textLength="24.7" lengthAdjust="spacingAndGlyphs">PPM1D</text>
<text x="173.3" y="294" font-size="8.64" text-anchor="start" fill="#111" stroke="#111" stroke-width="0.15" textLength="20.7" lengthAdjust="spacingAndGlyphs">COXIV</text>
<rect x="7.60" y="255.30" width="162.00" height="20.60" fill="#dedede"/>
<rect x="19.00" y="257.00" width="3.00" height="17.00" fill="#f6f6f6" filter="url(#b2)"/>
<rect x="31.00" y="257.00" width="3.00" height="17.00" fill="#f6f6f6" filter="url(#b2)"/>
<rect x="43.00" y="257.00" width="3.50" height="17.00" fill="#f6f6f6" filter="url(#b2)"/>
<rect x="54.00" y="257.00" width="4.50" height="17.00" fill="#f6f6f6" filter="url(#b2)"/>
<rect x="67.00" y="257.00" width="3.00" height="17.00" fill="#f6f6f6" filter="url(#b2)"/>
<rect x="79.00" y="257.00" width="13.00" height="17.00" fill="#f6f6f6" filter="url(#b2)"/>
<rect x="86.00" y="256.20" width="83.00" height="19.00" fill="#eeeeee" filter="url(#b2)"/>
<rect x="88.00" y="256.00" width="81.00" height="2.50" fill="#dadada" filter="url(#b2)"/>
<ellipse cx="14.10" cy="266.80" rx="4.70" ry="0.80" fill="#9a9a9a" opacity="0.7" filter="url(#b0)"/>
<ellipse cx="26.50" cy="266.80" rx="4.30" ry="0.80" fill="#9a9a9a" opacity="0.7" filter="url(#b0)"/>
<ellipse cx="38.35" cy="266.80" rx="4.25" ry="0.80" fill="#9a9a9a" opacity="0.7" filter="url(#b0)"/>
<ellipse cx="50.35" cy="266.80" rx="3.65" ry="0.80" fill="#9a9a9a" opacity="0.7" filter="url(#b0)"/>
<ellipse cx="63.00" cy="266.80" rx="4.10" ry="0.80" fill="#9a9a9a" opacity="0.7" filter="url(#b0)"/>
<ellipse cx="74.85" cy="266.80" rx="4.45" ry="0.80" fill="#9a9a9a" opacity="0.7" filter="url(#b0)"/>
<rect x="9.20" y="260.90" width="10.00" height="3.4" rx="2.5" ry="1.70" fill="#080808" filter="url(#b0)"/>
<rect x="22.00" y="260.95" width="9.20" height="3.3" rx="2.5" ry="1.65" fill="#080808" filter="url(#b0)"/>
<rect x="34.00" y="261.10" width="9.00" height="3.0" rx="2.5" ry="1.50" fill="#0c0c0c" filter="url(#b0)"/>
<rect x="46.50" y="261.30" width="8.00" height="2.6" rx="2.5" ry="1.30" fill="#3a3a3a" filter="url(#b0)"/>
<rect x="58.70" y="261.10" width="8.80" height="3.0" rx="2.5" ry="1.50" fill="#0c0c0c" filter="url(#b0)"/>
<rect x="73.00" y="261.50" width="6.30" height="2.2" rx="2.5" ry="1.10" fill="#777" filter="url(#b0)"/>
<ellipse cx="72.20" cy="262.50" rx="2.00" ry="1.60" fill="#000" opacity="1" filter="url(#b0)"/>
<path d="M95.70,266.2 H104.20 Q105.40,266.2 105.40,268.20 V270.60 Q105.40,273.8 99.95,273.8 Q94.50,273.8 94.50,270.60 V268.20 Q94.50,266.2 95.70,266.2 Z" fill="#060606" filter="url(#b0)"/>
<path d="M108.70,266.2 H116.30 Q117.50,266.2 117.50,268.20 V270.60 Q117.50,273.8 112.50,273.8 Q107.50,273.8 107.50,270.60 V268.20 Q107.50,266.2 108.70,266.2 Z" fill="#060606" filter="url(#b0)"/>
<path d="M120.50,266.2 H127.90 Q129.10,266.2 129.10,268.20 V270.60 Q129.10,273.8 124.20,273.8 Q119.30,273.8 119.30,270.60 V268.20 Q119.30,266.2 120.50,266.2 Z" fill="#060606" filter="url(#b0)"/>
<path d="M132.60,266.2 H140.00 Q141.20,266.2 141.20,268.20 V270.60 Q141.20,273.8 136.30,273.8 Q131.40,273.8 131.40,270.60 V268.20 Q131.40,266.2 132.60,266.2 Z" fill="#060606" filter="url(#b0)"/>
<path d="M144.70,266.2 H152.10 Q153.30,266.2 153.30,268.20 V270.60 Q153.30,273.8 148.40,273.8 Q143.50,273.8 143.50,270.60 V268.20 Q143.50,266.2 144.70,266.2 Z" fill="#060606" filter="url(#b0)"/>
<path d="M156.20,266.2 H164.20 Q165.40,266.2 165.40,268.20 V270.60 Q165.40,273.8 160.20,273.8 Q155.00,273.8 155.00,270.60 V268.20 Q155.00,266.2 156.20,266.2 Z" fill="#060606" filter="url(#b0)"/>
<ellipse cx="99.50" cy="274.00" rx="4.50" ry="1.30" fill="#555" opacity="0.9" filter="url(#b0)"/>
<rect x="7.60" y="255.30" width="162.00" height="20.60" fill="none" stroke="#151515" stroke-width="1.3"/>
<rect x="7.60" y="282.50" width="162.00" height="17.80" fill="url(#gB2)" stroke="#151515" stroke-width="1.3"/>
<ellipse cx="15.80" cy="293.30" rx="7.00" ry="2.0" fill="#070707" filter="url(#b0)"/>
<rect x="11.40" y="291.60" width="8.80" height="3.4" fill="#070707" filter="url(#b0)"/>
<ellipse cx="28.95" cy="293.30" rx="5.25" ry="2.0" fill="#070707" filter="url(#b0)"/>
<rect x="26.30" y="291.60" width="5.30" height="3.4" fill="#070707" filter="url(#b0)"/>
<ellipse cx="40.10" cy="293.30" rx="4.70" ry="2.0" fill="#070707" filter="url(#b0)"/>
<rect x="38.00" y="291.60" width="4.20" height="3.4" fill="#070707" filter="url(#b0)"/>
<ellipse cx="52.40" cy="293.30" rx="5.20" ry="2.0" fill="#070707" filter="url(#b0)"/>
<rect x="49.80" y="291.60" width="5.20" height="3.4" fill="#070707" filter="url(#b0)"/>
<ellipse cx="64.60" cy="293.00" rx="5.50" ry="2.0" fill="#070707" filter="url(#b0)"/>
<rect x="61.70" y="291.30" width="5.80" height="3.4" fill="#070707" filter="url(#b0)"/>
<ellipse cx="77.05" cy="293.30" rx="5.35" ry="2.0" fill="#070707" filter="url(#b0)"/>
<rect x="74.30" y="291.60" width="5.50" height="3.4" fill="#070707" filter="url(#b0)"/>
<ellipse cx="100.55" cy="292.30" rx="6.65" ry="2.0" fill="#070707" filter="url(#b0)"/>
<rect x="96.50" y="290.60" width="8.10" height="3.4" fill="#070707" filter="url(#b0)"/>
<ellipse cx="113.55" cy="293.00" rx="5.25" ry="2.0" fill="#070707" filter="url(#b0)"/>
<rect x="110.90" y="291.30" width="5.30" height="3.4" fill="#070707" filter="url(#b0)"/>
<ellipse cx="125.05" cy="294.00" rx="5.15" ry="2.0" fill="#070707" filter="url(#b0)"/>
<rect x="122.50" y="292.30" width="5.10" height="3.4" fill="#070707" filter="url(#b0)"/>
<ellipse cx="137.00" cy="295.00" rx="5.60" ry="2.0" fill="#070707" filter="url(#b0)"/>
<rect x="134.00" y="293.30" width="6.00" height="3.4" fill="#070707" filter="url(#b0)"/>
<ellipse cx="149.05" cy="296.00" rx="5.45" ry="2.0" fill="#070707" filter="url(#b0)"/>
<rect x="146.20" y="294.30" width="5.70" height="3.4" fill="#070707" filter="url(#b0)"/>
<ellipse cx="161.00" cy="296.50" rx="5.60" ry="2.0" fill="#070707" filter="url(#b0)"/>
<rect x="158.00" y="294.80" width="6.00" height="3.4" fill="#070707" filter="url(#b0)"/>
<text x="234.2" y="207.3" font-size="11.34" text-anchor="start" fill="#111" stroke="#111" stroke-width="0.15">C</text>
<text x="233.5" y="224.6" font-size="8.8" text-anchor="start" fill="#111" stroke="#111" stroke-width="0.15" textLength="37.2" lengthAdjust="spacingAndGlyphs">Full Length</text>
<text x="240" y="234.3" font-size="8.64" text-anchor="start" fill="#111" stroke="#111" stroke-width="0.15" textLength="24.2" lengthAdjust="spacingAndGlyphs">PPM1D</text>
<text x="275.3" y="224.6" font-size="8.8" text-anchor="start" fill="#111" stroke="#111" stroke-width="0.15" textLength="33.2" lengthAdjust="spacingAndGlyphs">Truncated</text>
<text x="280" y="234.3" font-size="8.64" text-anchor="start" fill="#111" stroke="#111" stroke-width="0.15" textLength="24.2" lengthAdjust="spacingAndGlyphs">PPM1D</text>
<path d="M240.5,246.2 Q240.5,242.5 243.5,242.5 L252.25,242.5 Q255.25,242.5 255.25,239.2 Q255.25,242.5 258.25,242.5 L267.0,242.5 Q270,242.5 270,246.2" fill="none" stroke="#231f20" stroke-width="0.9"/>
<path d="M272.3,246.2 Q272.3,242.5 275.3,242.5 L284.05,242.5 Q287.05,242.5 287.05,239.2 Q287.05,242.5 290.05,242.5 L298.8,242.5 Q301.8,242.5 301.8,246.2" fill="none" stroke="#231f20" stroke-width="0.9"/>
<text x="246.9" y="257.2" font-size="7.56" text-anchor="middle" fill="#333" stroke="#333" stroke-width="0.15">-</text>
<text x="261.2" y="257.2" font-size="7.56" text-anchor="middle" fill="#333" stroke="#333" stroke-width="0.15">+</text>
<text x="278.5" y="257.2" font-size="7.56" text-anchor="middle" fill="#333" stroke="#333" stroke-width="0.15">-</text>
<text x="294.2" y="257.2" font-size="7.56" text-anchor="middle" fill="#333" stroke="#333" stroke-width="0.15">+</text>
<text x="305.3" y="257.5" font-size="8.64" text-anchor="start" fill="#111" stroke="#111" stroke-width="0.15" textLength="24.2" lengthAdjust="spacingAndGlyphs">MG132</text>
<rect x="239.30" y="263.20" width="62.80" height="20.20" fill="#f6f6f6" stroke="#151515" stroke-width="1.3"/>
<ellipse cx="246.75" cy="267.90" rx="6.25" ry="1.20" fill="#b5b5b5" opacity="0.8" filter="url(#b1)"/>
<rect x="257.2" y="266.0" width="10.8" height="4.4" rx="3" ry="2.2" fill="#070707" filter="url(#b0)"/>
<rect x="272.7" y="274.8" width="12.1" height="4.7" rx="3" ry="2.3" fill="#070707" filter="url(#b0)"/>
<rect x="288.2" y="274.9" width="10.8" height="6.4" rx="4" ry="3.2" fill="#070707" filter="url(#b0)"/>
<rect x="239.30" y="287.60" width="62.80" height="13.20" fill="#f2f2f2" stroke="#151515" stroke-width="1.3"/>
<rect x="242.4" y="292.3" width="12.8" height="4.7" rx="3.5" ry="2.3" fill="#070707" filter="url(#b0)"/>
<rect x="258.6" y="292.6" width="10" height="4.0" rx="3" ry="2" fill="#070707" filter="url(#b0)"/>
<ellipse cx="280.05" cy="294.60" rx="6.05" ry="1.50" fill="#444" opacity="0.9" filter="url(#b0)"/>
<rect x="288.6" y="291.2" width="12.6" height="7" rx="4" ry="3.5" fill="#060606" filter="url(#b0)"/>
<text x="305.3" y="275.8" font-size="8.64" text-anchor="start" fill="#111" stroke="#111" stroke-width="0.15" textLength="24.2" lengthAdjust="spacingAndGlyphs">PPM1D</text>
<text x="305.3" y="297.2" font-size="8.64" text-anchor="start" fill="#111" stroke="#111" stroke-width="0.15" textLength="20.7" lengthAdjust="spacingAndGlyphs">COXIV</text>
<text x="342.7" y="206.9" font-size="11.34" text-anchor="start" fill="#111" stroke="#111" stroke-width="0.15">D</text>
<text x="387.9" y="220" font-size="8.8" text-anchor="end" fill="#111" stroke="#111" stroke-width="0.15" textLength="42.9" lengthAdjust="spacingAndGlyphs">Full Length 0</text>
<rect x="391.30" y="214.80" width="105.60" height="5.20" fill="#e8b823"/>
<text x="499.79999999999995" y="220" font-size="8.64" text-anchor="start" fill="#111" stroke="#111" stroke-width="0.15" textLength="12.5" lengthAdjust="spacingAndGlyphs">605</text>
<text x="387.9" y="228.1" font-size="8.8" text-anchor="end" fill="#111" stroke="#111" stroke-width="0.15" textLength="28.3" lengthAdjust="spacingAndGlyphs">Trunc1 0</text>
<rect x="391.30" y="222.90" width="81.60" height="5.20" fill="#4c1f6b"/>
<text x="475.79999999999995" y="228.1" font-size="8.64" text-anchor="start" fill="#111" stroke="#111" stroke-width="0.15" textLength="12.5" lengthAdjust="spacingAndGlyphs">478</text>
<text x="387.9" y="236.3" font-size="8.8" text-anchor="end" fill="#111" stroke="#111" stroke-width="0.15" textLength="28.3" lengthAdjust="spacingAndGlyphs">Trunc2 0</text>
<rect x="391.30" y="231.10" width="83.90" height="5.20" fill="#69a83d"/>
<text x="478.09999999999997" y="236.3" font-size="8.64" text-anchor="start" fill="#111" stroke="#111" stroke-width="0.15" textLength="12.5" lengthAdjust="spacingAndGlyphs">482</text>
<text x="387.9" y="244.6" font-size="8.8" text-anchor="end" fill="#111" stroke="#111" stroke-width="0.15" textLength="37.1" lengthAdjust="spacingAndGlyphs">C-Terminus</text>
<text x="484" y="244.6" font-size="8.64" text-anchor="end" fill="#111" stroke="#111" stroke-width="0.15" textLength="12" lengthAdjust="spacingAndGlyphs">552</text>
<rect x="487.30" y="240.20" width="9.60" height="5.20" fill="#2d4a8a"/>
<text x="499.8" y="244.6" font-size="8.64" text-anchor="start" fill="#111" stroke="#111" stroke-width="0.15" textLength="12.5" lengthAdjust="spacingAndGlyphs">605</text>
<path d="M372.3,250.8 L428.5,267.8 L427.5,273.5 L421,273.5 Z" fill="#e0901c"/>
<path d="M500.8,250.4 L430.8,267.8 L431.5,273.5 L437,273.5 Z" fill="#e0901c"/>
<path d="M366.5,279 C358,282 358,300 372,300 L496,300 C512,300 512,282 503.5,279" fill="none" stroke="#231f20" stroke-width="1"/>
<path d="M366.2,275.8 H377 V272.7 L386.2,278.9 L377,285.3 V281.9 H366.2 Z" fill="#c6c6cb"/>
<rect x="387.70" y="273.40" width="23.80" height="10.80" fill="#5aa53b" stroke="#2a2a2a" stroke-width="0.7"/>
<rect x="411.50" y="273.40" width="37.70" height="10.80" fill="#e08f1e" stroke="#2a2a2a" stroke-width="0.7"/>
<rect x="449.20" y="273.40" width="20.50" height="10.80" fill="#d9b98c" stroke="#2a2a2a" stroke-width="0.7"/>
<rect x="469.70" y="273.40" width="33.80" height="10.80" fill="#c8384c" stroke="#b02a3e" stroke-width="0.7"/>
<text x="399.6" y="281.9" font-size="8.21" text-anchor="middle" fill="#111" stroke="#111" stroke-width="0.15" textLength="19" lengthAdjust="spacingAndGlyphs">EGFP</text>
<text x="430.3" y="281.9" font-size="8.21" text-anchor="middle" fill="#111" stroke="#111" stroke-width="0.15" textLength="23" lengthAdjust="spacingAndGlyphs">PPM1D</text>
<text x="459.5" y="281.9" font-size="8.21" text-anchor="middle" fill="#111" stroke="#111" stroke-width="0.15" textLength="15" lengthAdjust="spacingAndGlyphs">IRES</text>
<text x="486.6" y="281.9" font-size="8.36" text-anchor="middle" fill="#fff" stroke="#fff" stroke-width="0.15" textLength="30" lengthAdjust="spacingAndGlyphs">mCherry</text>
<text x="8.7" y="326.4" font-size="11.34" text-anchor="start" fill="#111" stroke="#111" stroke-width="0.15">E</text>
<line x1="39.4" y1="353.9" x2="39.4" y2="438.8" stroke="#231f20" stroke-width="1.3"/>
<line x1="38.9" y1="438.3" x2="162.8" y2="438.3" stroke="#231f20" stroke-width="1.3"/>
<line x1="36.6" y1="438.3" x2="39.4" y2="438.3" stroke="#231f20" stroke-width="1"/>
<text x="33.8" y="440.90000000000003" font-size="7.99" text-anchor="end" fill="#111" stroke="#111" stroke-width="0.15">0</text>
<line x1="36.6" y1="417.8" x2="39.4" y2="417.8" stroke="#231f20" stroke-width="1"/>
<text x="33.8" y="420.40000000000003" font-size="7.99" text-anchor="end" fill="#111" stroke="#111" stroke-width="0.15" textLength="12.35" lengthAdjust="spacingAndGlyphs">100</text>
<line x1="36.6" y1="397.3" x2="39.4" y2="397.3" stroke="#231f20" stroke-width="1"/>
<text x="33.8" y="399.90000000000003" font-size="7.99" text-anchor="end" fill="#111" stroke="#111" stroke-width="0.15" textLength="12.35" lengthAdjust="spacingAndGlyphs">200</text>
<line x1="36.6" y1="376.8" x2="39.4" y2="376.8" stroke="#231f20" stroke-width="1"/>
<text x="33.8" y="379.40000000000003" font-size="7.99" text-anchor="end" fill="#111" stroke="#111" stroke-width="0.15" textLength="12.35" lengthAdjust="spacingAndGlyphs">300</text>
<line x1="36.6" y1="356.3" x2="39.4" y2="356.3" stroke="#231f20" stroke-width="1"/>
<text x="33.8" y="358.90000000000003" font-size="7.99" text-anchor="end" fill="#111" stroke="#111" stroke-width="0.15" textLength="12.35" lengthAdjust="spacingAndGlyphs">400</text>
<rect x="46.50" y="418.00" width="17.60" height="20.30" fill="#e9b824"/>
<rect x="77.10" y="375.80" width="17.90" height="62.50" fill="#4c1f6b"/>
<rect x="108.00" y="378.80" width="17.90" height="59.50" fill="#6aab3e"/>
<rect x="138.80" y="433.80" width="18.20" height="4.50" fill="#2b4a87"/>
<line x1="55.3" y1="438.3" x2="55.3" y2="440.8" stroke="#231f20" stroke-width="1"/>
<line x1="86" y1="438.3" x2="86" y2="440.8" stroke="#231f20" stroke-width="1"/>
<line x1="117" y1="438.3" x2="117" y2="440.8" stroke="#231f20" stroke-width="1"/>
<line x1="147.9" y1="438.3" x2="147.9" y2="440.8" stroke="#231f20" stroke-width="1"/>
<line x1="79" y1="375.6" x2="93" y2="375.6" stroke="#4c1f6b" stroke-width="1.2"/>
<line x1="112" y1="378.2" x2="122" y2="378.2" stroke="#6aab3e" stroke-width="1.0"/>
<line x1="117" y1="377.5" x2="117" y2="379" stroke="#6aab3e" stroke-width="1"/>
<text x="73" y="338.75" font-size="7.8" text-anchor="start" fill="#111" stroke="#111" stroke-width="0.15" textLength="55.75" lengthAdjust="spacingAndGlyphs">Molm13 p53 WT</text>
<text x="85" y="348.75" font-size="7.92" text-anchor="start" fill="#111" stroke="#111" stroke-width="0.15" textLength="25.5" lengthAdjust="spacingAndGlyphs">p&lt;0.001</text>
<text x="71.75" y="358.75" font-size="7.92" text-anchor="start" fill="#111" stroke="#111" stroke-width="0.15" textLength="25.75" lengthAdjust="spacingAndGlyphs">p&lt;0.001</text>
<text x="55.5" y="369.5" font-size="7.92" text-anchor="start" fill="#111" stroke="#111" stroke-width="0.15" textLength="25.75" lengthAdjust="spacingAndGlyphs">p&lt;0.001</text>
<line x1="52" y1="351.75" x2="143.75" y2="351.75" stroke="#4d4d4f" stroke-width="1.1"/>
<line x1="52" y1="362.5" x2="117.5" y2="362.5" stroke="#4d4d4f" stroke-width="1.1"/>
<line x1="52" y1="373" x2="85" y2="373" stroke="#4d4d4f" stroke-width="1.1"/>
<text x="55.3" y="451.4" font-size="8.36" text-anchor="middle" fill="#111" stroke="#111" stroke-width="0.15" textLength="12.25" lengthAdjust="spacingAndGlyphs">Full</text>
<text x="55.3" y="460.7" font-size="8.36" text-anchor="middle" fill="#111" stroke="#111" stroke-width="0.15" textLength="23.24" lengthAdjust="spacingAndGlyphs">Length</text>
<text x="86" y="451.4" font-size="8.36" text-anchor="middle" fill="#111" stroke="#111" stroke-width="0.15" textLength="23.37" lengthAdjust="spacingAndGlyphs">Trunc1</text>
<text x="117" y="451.4" font-size="8.36" text-anchor="middle" fill="#111" stroke="#111" stroke-width="0.15" textLength="23.37" lengthAdjust="spacingAndGlyphs">Trunc2</text>
<text x="147.9" y="451.4" font-size="8.21" text-anchor="middle" fill="#111" stroke="#111" stroke-width="0.15" textLength="8.02" lengthAdjust="spacingAndGlyphs">C-</text>
<text x="147.9" y="460.7" font-size="8.36" text-anchor="middle" fill="#111" stroke="#111" stroke-width="0.15" textLength="30.83" lengthAdjust="spacingAndGlyphs">Terminus</text>
<text x="14.9" y="424.6" font-size="10.34" text-anchor="start" fill="#111" stroke="#111" stroke-width="0.15" textLength="57.7" lengthAdjust="spacingAndGlyphs" transform="rotate(-90 14.9 424.6)">EGFP/mCherry</text>
<text x="168.8" y="326.4" font-size="11.34" text-anchor="start" fill="#111" stroke="#111" stroke-width="0.15">F</text>
<line x1="200.8" y1="352.2" x2="200.8" y2="438.3" stroke="#231f20" stroke-width="1.3"/>
<line x1="200.3" y1="437.8" x2="326" y2="437.8" stroke="#231f20" stroke-width="1.3"/>
<line x1="198.0" y1="437.8" x2="200.8" y2="437.8" stroke="#231f20" stroke-width="1"/>
<text x="195.3" y="440.40000000000003" font-size="7.99" text-anchor="end" fill="#111" stroke="#111" stroke-width="0.15">0</text>
<line x1="198.0" y1="417.0" x2="200.8" y2="417.0" stroke="#231f20" stroke-width="1"/>
<text x="195.3" y="419.6" font-size="7.99" text-anchor="end" fill="#111" stroke="#111" stroke-width="0.15" textLength="12.35" lengthAdjust="spacingAndGlyphs">100</text>
<line x1="198.0" y1="396.2" x2="200.8" y2="396.2" stroke="#231f20" stroke-width="1"/>
<text x="195.3" y="398.8" font-size="7.99" text-anchor="end" fill="#111" stroke="#111" stroke-width="0.15" textLength="12.35" lengthAdjust="spacingAndGlyphs">200</text>
<line x1="198.0" y1="375.40000000000003" x2="200.8" y2="375.40000000000003" stroke="#231f20" stroke-width="1"/>
<text x="195.3" y="378.00000000000006" font-size="7.99" text-anchor="end" fill="#111" stroke="#111" stroke-width="0.15" textLength="12.35" lengthAdjust="spacingAndGlyphs">300</text>
<line x1="198.0" y1="354.6" x2="200.8" y2="354.6" stroke="#231f20" stroke-width="1"/>
<text x="195.3" y="357.20000000000005" font-size="7.99" text-anchor="end" fill="#111" stroke="#111" stroke-width="0.15" textLength="12.35" lengthAdjust="spacingAndGlyphs">400</text>
<rect x="207.20" y="417.50" width="18.40" height="20.30" fill="#e9b824"/>
<rect x="238.70" y="384.00" width="18.00" height="53.80" fill="#4c1f6b"/>
<rect x="269.90" y="384.00" width="18.70" height="53.80" fill="#6aab3e"/>
<rect x="301.00" y="433.80" width="18.70" height="4.00" fill="#2b4a87"/>
<line x1="216.4" y1="437.8" x2="216.4" y2="440.3" stroke="#231f20" stroke-width="1"/>
<line x1="247.7" y1="437.8" x2="247.7" y2="440.3" stroke="#231f20" stroke-width="1"/>
<line x1="279.2" y1="437.8" x2="279.2" y2="440.3" stroke="#231f20" stroke-width="1"/>
<line x1="310.3" y1="437.8" x2="310.3" y2="440.3" stroke="#231f20" stroke-width="1"/>
<line x1="241" y1="383.8" x2="254" y2="383.8" stroke="#4c1f6b" stroke-width="1.0"/>
<line x1="272" y1="383.8" x2="286" y2="383.8" stroke="#6aab3e" stroke-width="1.0"/>
<text x="233.2" y="342.2" font-size="7.8" text-anchor="start" fill="#111" stroke="#111" stroke-width="0.15" textLength="52.8" lengthAdjust="spacingAndGlyphs">Molm13 p53 -/-</text>
<text x="243.5" y="351.7" font-size="7.92" text-anchor="start" fill="#111" stroke="#111" stroke-width="0.15" textLength="25.7" lengthAdjust="spacingAndGlyphs">p&lt;0.001</text>
<text x="229.0" y="362.5" font-size="7.92" text-anchor="start" fill="#111" stroke="#111" stroke-width="0.15" textLength="25.7" lengthAdjust="spacingAndGlyphs">p&lt;0.001</text>
<text x="213.5" y="372.4" font-size="7.92" text-anchor="start" fill="#111" stroke="#111" stroke-width="0.15" textLength="25.7" lengthAdjust="spacingAndGlyphs">p&lt;0.001</text>
<line x1="210.8" y1="354.6" x2="302.8" y2="354.6" stroke="#4d4d4f" stroke-width="1.1"/>
<line x1="210.8" y1="365.4" x2="275.8" y2="365.4" stroke="#4d4d4f" stroke-width="1.1"/>
<line x1="210.8" y1="375.4" x2="243.7" y2="375.4" stroke="#4d4d4f" stroke-width="1.1"/>
<text x="216.4" y="451.4" font-size="8.36" text-anchor="middle" fill="#111" stroke="#111" stroke-width="0.15" textLength="12.25" lengthAdjust="spacingAndGlyphs">Full</text>
<text x="216.4" y="460.7" font-size="8.36" text-anchor="middle" fill="#111" stroke="#111" stroke-width="0.15" textLength="23.24" lengthAdjust="spacingAndGlyphs">Length</text>
<text x="247.7" y="451.4" font-size="8.36" text-anchor="middle" fill="#111" stroke="#111" stroke-width="0.15" textLength="23.37" lengthAdjust="spacingAndGlyphs">Trunc1</text>
<text x="279.2" y="451.4" font-size="8.36" text-anchor="middle" fill="#111" stroke="#111" stroke-width="0.15" textLength="23.37" lengthAdjust="spacingAndGlyphs">Trunc2</text>
<text x="310.3" y="451.4" font-size="8.21" text-anchor="middle" fill="#111" stroke="#111" stroke-width="0.15" textLength="8.02" lengthAdjust="spacingAndGlyphs">C-</text>
<text x="310.3" y="460.7" font-size="8.36" text-anchor="middle" fill="#111" stroke="#111" stroke-width="0.15" textLength="30.83" lengthAdjust="spacingAndGlyphs">Terminus</text>
<text x="176.0" y="423.6" font-size="10.34" text-anchor="start" fill="#111" stroke="#111" stroke-width="0.15" textLength="58" lengthAdjust="spacingAndGlyphs" transform="rotate(-90 176.0 423.6)">EGFP/mCherry</text>
<text x="332.3" y="326.3" font-size="11.34" text-anchor="start" fill="#111" stroke="#111" stroke-width="0.15">G</text>
<line x1="363.4" y1="340.4" x2="363.4" y2="380.9" stroke="#231f20" stroke-width="1.3"/>
<line x1="363.4" y1="394.2" x2="363.4" y2="438.6" stroke="#231f20" stroke-width="1.3"/>
<line x1="362.9" y1="438.1" x2="513" y2="438.1" stroke="#231f20" stroke-width="1.3"/>
<line x1="360.59999999999997" y1="342.7" x2="363.4" y2="342.7" stroke="#231f20" stroke-width="1"/>
<text x="357.0" y="345.3" font-size="7.99" text-anchor="end" fill="#111" stroke="#111" stroke-width="0.15" textLength="12.35" lengthAdjust="spacingAndGlyphs">400</text>
<line x1="360.59999999999997" y1="361.7" x2="363.4" y2="361.7" stroke="#231f20" stroke-width="1"/>
<text x="357.0" y="364.3" font-size="7.99" text-anchor="end" fill="#111" stroke="#111" stroke-width="0.15" textLength="12.35" lengthAdjust="spacingAndGlyphs">350</text>
<line x1="360.59999999999997" y1="380.8" x2="363.4" y2="380.8" stroke="#231f20" stroke-width="1"/>
<text x="357.0" y="383.40000000000003" font-size="7.99" text-anchor="end" fill="#111" stroke="#111" stroke-width="0.15" textLength="12.35" lengthAdjust="spacingAndGlyphs">300</text>
<line x1="360.59999999999997" y1="438.1" x2="363.4" y2="438.1" stroke="#231f20" stroke-width="1"/>
<text x="357.0" y="440.70000000000005" font-size="7.99" text-anchor="end" fill="#111" stroke="#111" stroke-width="0.15">0</text>
<line x1="360.59999999999997" y1="423.5" x2="363.4" y2="423.5" stroke="#231f20" stroke-width="1"/>
<text x="357.0" y="426.1" font-size="7.99" text-anchor="end" fill="#111" stroke="#111" stroke-width="0.15" textLength="8.23" lengthAdjust="spacingAndGlyphs">50</text>
<line x1="360.59999999999997" y1="408.90000000000003" x2="363.4" y2="408.90000000000003" stroke="#231f20" stroke-width="1"/>
<text x="357.0" y="411.50000000000006" font-size="7.99" text-anchor="end" fill="#111" stroke="#111" stroke-width="0.15" textLength="12.35" lengthAdjust="spacingAndGlyphs">100</text>
<line x1="360.59999999999997" y1="394.3" x2="363.4" y2="394.3" stroke="#231f20" stroke-width="1"/>
<text x="357.0" y="396.90000000000003" font-size="7.99" text-anchor="end" fill="#111" stroke="#111" stroke-width="0.15" textLength="12.35" lengthAdjust="spacingAndGlyphs">150</text>
<line x1="363.4" y1="408.8" x2="513" y2="408.8" stroke="#555" stroke-width="1" stroke-dasharray="1.1,0.9"/>
<rect x="370.20" y="408.80" width="9.20" height="29.30" fill="#e9b824"/>
<path d="M385.1,438.1 V400.6 H393.0 V438.1" fill="none" stroke="#e9b824" stroke-width="1"/>
<line x1="386.6" y1="400.0" x2="391.5" y2="400.0" stroke="#e9b824" stroke-width="1"/>
<rect x="407.70" y="408.80" width="9.20" height="29.30" fill="#4c1f6b"/>
<path d="M421.8,438.1 V407.3 H430.5 V438.1" fill="none" stroke="#4c1f6b" stroke-width="1"/>
<line x1="423.3" y1="406.7" x2="429" y2="406.7" stroke="#4c1f6b" stroke-width="1"/>
<rect x="445.20" y="408.80" width="9.10" height="29.30" fill="#6aab3e"/>
<path d="M459.2,438.1 V407.7 H468.1 V438.1" fill="none" stroke="#6aab3e" stroke-width="1"/>
<line x1="460.7" y1="407.09999999999997" x2="466.6" y2="407.09999999999997" stroke="#6aab3e" stroke-width="1"/>
<rect x="482.30" y="408.80" width="9.50" height="29.30" fill="#2b4a87"/>
<path d="M496.6,438.1 V394.5 M505.3,438.1 V394.5 M496.6,381.4 V359.1 H505.3 V381.4" fill="none" stroke="#2b4a87" stroke-width="1"/>
<line x1="500.95000000000005" y1="359.1" x2="500.95000000000005" y2="354.7" stroke="#2b4a87" stroke-width="1"/>
<line x1="498.8" y1="354.7" x2="503.6" y2="354.7" stroke="#2b4a87" stroke-width="1"/>
<line x1="381.3" y1="438.1" x2="381.3" y2="440.6" stroke="#231f20" stroke-width="1"/>
<line x1="418.8" y1="438.1" x2="418.8" y2="440.6" stroke="#231f20" stroke-width="1"/>
<line x1="456.6" y1="438.1" x2="456.6" y2="440.6" stroke="#231f20" stroke-width="1"/>
<line x1="494" y1="438.1" x2="494" y2="440.6" stroke="#231f20" stroke-width="1"/>
<rect x="366.50" y="343.00" width="4.80" height="7.00" fill="#111"/>
<rect x="367.00" y="354.70" width="4.00" height="6.30" fill="#fff" stroke="#111" stroke-width="0.9"/>
<text x="374.6" y="349" font-size="8.36" text-anchor="start" fill="#111" stroke="#111" stroke-width="0.15" textLength="31.4" lengthAdjust="spacingAndGlyphs">Untreated</text>
<text x="374.6" y="360.5" font-size="8.21" text-anchor="start" fill="#111" stroke="#111" stroke-width="0.15" textLength="28.4" lengthAdjust="spacingAndGlyphs">MG132+</text>
<text x="368.8" y="383" font-size="8.14" text-anchor="start" fill="#111" stroke="#111" stroke-width="0.15" textLength="25.2" lengthAdjust="spacingAndGlyphs">p=0.009</text>
<line x1="374.2" y1="385.4" x2="388.7" y2="385.4" stroke="#4d4d4f" stroke-width="1.3"/>
<text x="408.5" y="383" font-size="8.14" text-anchor="start" fill="#111" stroke="#111" stroke-width="0.15" textLength="21" lengthAdjust="spacingAndGlyphs">p=0.26</text>
<line x1="411.7" y1="385.4" x2="427" y2="385.4" stroke="#4d4d4f" stroke-width="1.3"/>
<text x="446.9" y="382.5" font-size="8.14" text-anchor="start" fill="#111" stroke="#111" stroke-width="0.15" textLength="22.3" lengthAdjust="spacingAndGlyphs">p=0.09</text>
<line x1="450" y1="386.4" x2="466" y2="386.4" stroke="#4d4d4f" stroke-width="1.3"/>
<text x="480.6" y="344.9" font-size="8.14" text-anchor="start" fill="#111" stroke="#111" stroke-width="0.15" textLength="25.8" lengthAdjust="spacingAndGlyphs">p=0.002</text>
<line x1="485.2" y1="349" x2="501.6" y2="349" stroke="#4d4d4f" stroke-width="1.3"/>
<text x="381.9" y="451" font-size="8.36" text-anchor="middle" fill="#111" stroke="#111" stroke-width="0.15" textLength="12.25" lengthAdjust="spacingAndGlyphs">Full</text>
<text x="381.9" y="460.4" font-size="8.36" text-anchor="middle" fill="#111" stroke="#111" stroke-width="0.15" textLength="23.24" lengthAdjust="spacingAndGlyphs">Length</text>
<text x="418.8" y="451" font-size="8.36" text-anchor="middle" fill="#111" stroke="#111" stroke-width="0.15" textLength="23.37" lengthAdjust="spacingAndGlyphs">Trunc1</text>
<text x="456.8" y="451" font-size="8.36" text-anchor="middle" fill="#111" stroke="#111" stroke-width="0.15" textLength="23.37" lengthAdjust="spacingAndGlyphs">Trunc2</text>
<text x="494.4" y="451" font-size="8.21" text-anchor="middle" fill="#111" stroke="#111" stroke-width="0.15" textLength="8.02" lengthAdjust="spacingAndGlyphs">C-</text>
<text x="494.4" y="460.4" font-size="8.36" text-anchor="middle" fill="#111" stroke="#111" stroke-width="0.15" textLength="30.83" lengthAdjust="spacingAndGlyphs">Terminus</text>
<text x="338.8" y="418.2" font-size="10.34" text-anchor="start" fill="#111" stroke="#111" stroke-width="0.15" textLength="58.6" lengthAdjust="spacingAndGlyphs" transform="rotate(-90 338.8 418.2)">EGFP/mCherry</text>
<text x="8.7" y="487.3" font-size="11.34" text-anchor="start" fill="#111" stroke="#111" stroke-width="0.15">H</text>
<path d="M40.00,500.28 L41.66,500.33 L43.32,500.40 L44.98,500.46 L46.64,500.54 L48.30,500.62 L49.96,500.70 L51.62,500.80 L53.28,500.90 L54.94,501.01 L56.60,501.13 L58.26,501.26 L59.92,501.40 L61.58,501.55 L63.24,501.72 L64.90,501.89 L66.56,502.09 L68.22,502.30 L69.88,502.53 L71.54,502.77 L73.20,503.04 L74.86,503.33 L76.52,503.64 L78.18,503.98 L79.84,504.34 L81.50,504.73 L83.16,505.16 L84.82,505.61 L86.48,506.11 L88.14,506.64 L89.80,507.21 L91.46,507.82 L93.12,508.48 L94.78,509.19 L96.44,509.95 L98.10,510.77 L99.76,511.64 L101.42,512.57 L103.08,513.57 L104.74,514.63 L106.40,515.75 L108.06,516.95 L109.72,518.23 L111.38,519.57 L113.04,521.00 L114.70,522.50 L116.36,524.09 L118.02,525.75 L119.68,527.49 L121.34,529.31 L123.00,531.22 L124.66,533.19 L126.32,535.24 L127.98,537.37 L129.64,539.56 L131.30,541.81 L132.96,544.11 L134.62,546.47 L136.28,548.87 L137.94,551.31 L139.60,553.78 L141.26,556.26 L142.92,558.76 L144.58,561.26 L146.24,563.76 L147.90,566.24 L149.56,568.70 L151.22,571.13 L152.88,573.52 L154.54,575.86 L156.20,578.16 L157.86,580.39 L159.52,582.56 L161.18,584.67 L162.84,586.70 L164.50,588.66 L166.16,590.54 L167.82,592.34 L169.48,594.07 L171.14,595.71 L172.80,597.27" fill="none" stroke="#b71c3d" stroke-width="1.5"/>
<path d="M40.00,501.16 L41.76,501.30 L43.52,501.44 L45.28,501.60 L47.04,501.77 L48.80,501.95 L50.56,502.15 L52.32,502.36 L54.08,502.59 L55.84,502.84 L57.60,503.10 L59.36,503.39 L61.12,503.70 L62.88,504.03 L64.64,504.39 L66.40,504.77 L68.16,505.18 L69.92,505.62 L71.68,506.09 L73.44,506.60 L75.20,507.14 L76.96,507.73 L78.72,508.35 L80.48,509.01 L82.24,509.73 L84.00,510.48 L85.76,511.29 L87.52,512.15 L89.28,513.07 L91.04,514.04 L92.80,515.08 L94.56,516.17 L96.32,517.33 L98.08,518.55 L99.84,519.84 L101.60,521.20 L103.36,522.62 L105.12,524.12 L106.88,525.69 L108.64,527.33 L110.40,529.03 L112.16,530.81 L113.92,532.65 L115.68,534.56 L117.44,536.53 L119.20,538.56 L120.96,540.64 L122.72,542.78 L124.48,544.96 L126.24,547.18 L128.00,549.44 L129.76,551.72 L131.52,554.03 L133.28,556.35 L135.04,558.68 L136.80,561.01 L138.56,563.34 L140.32,565.65 L142.08,567.94 L143.84,570.20 L145.60,572.43 L147.36,574.62 L149.12,576.77 L150.88,578.86 L152.64,580.90 L154.40,582.89 L156.16,584.81 L157.92,586.67 L159.68,588.46 L161.44,590.18 L163.20,591.83 L164.96,593.41 L166.72,594.93 L168.48,596.37 L170.24,597.74 L172.00,599.04 L173.76,600.28 L175.52,601.45 L177.28,602.56 L179.04,603.50 L180.80,603.50" fill="none" stroke="#2b4a87" stroke-width="1.5"/>
<path d="M40.00,500.36 L41.67,500.70 L43.34,501.06 L45.01,501.45 L46.67,501.87 L48.34,502.31 L50.01,502.78 L51.68,503.29 L53.35,503.82 L55.02,504.39 L56.69,504.99 L58.36,505.63 L60.02,506.31 L61.69,507.03 L63.36,507.79 L65.03,508.59 L66.70,509.44 L68.37,510.34 L70.04,511.29 L71.71,512.29 L73.38,513.34 L75.04,514.44 L76.71,515.60 L78.38,516.81 L80.05,518.08 L81.72,519.40 L83.39,520.79 L85.06,522.22 L86.72,523.72 L88.39,525.27 L90.06,526.88 L91.73,528.54 L93.40,530.26 L95.07,532.02 L96.74,533.83 L98.41,535.69 L100.08,537.58 L101.74,539.52 L103.41,541.49 L105.08,543.49 L106.75,545.52 L108.42,547.57 L110.09,549.63 L111.76,551.70 L113.42,553.79 L115.09,555.87 L116.76,557.94 L118.43,560.01 L120.10,562.06 L121.77,564.09 L123.44,566.10 L125.11,568.07 L126.78,570.01 L128.44,571.92 L130.11,573.78 L131.78,575.60 L133.45,577.38 L135.12,579.10 L136.79,580.77 L138.46,582.39 L140.12,583.95 L141.79,585.46 L143.46,586.90 L145.13,588.30 L146.80,589.63 L148.47,590.91 L150.14,592.13 L151.81,593.30 L153.47,594.41 L155.14,595.47 L156.81,596.48 L158.48,597.44 L160.15,598.34 L161.82,599.20 L163.49,600.02 L165.16,600.79 L166.82,601.51 L168.49,602.20 L170.16,602.84 L171.83,603.45 L173.50,603.50" fill="none" stroke="#6fb043" stroke-width="1.5"/>
<line x1="110" y1="552.8" x2="137.7" y2="552.8" stroke="#111" stroke-width="1" stroke-dasharray="1,0.8"/>
<line x1="118" y1="562.9" x2="137.5" y2="562.9" stroke="#111" stroke-width="1" stroke-dasharray="1,0.8"/>
<path d="M119.20,547.70 L119.20,550.90 M117.81,548.50 L120.59,550.10 M120.59,548.50 L117.81,550.10 " stroke="#111" stroke-width="0.8" fill="none"/>
<path d="M125.00,557.60 L125.00,560.80 M123.61,558.40 L126.39,560.00 M126.39,558.40 L123.61,560.00 " stroke="#111" stroke-width="0.8" fill="none"/>
<text x="151" y="560.8" font-size="7.92" text-anchor="start" fill="#111" stroke="#111" stroke-width="0.15" textLength="39.8" lengthAdjust="spacingAndGlyphs">* = p&lt;0.0001</text>
<path d="M92.7,527.5 V537.5 M91.10000000000001,527.5 H94.3 M91.10000000000001,537.5 H94.3" stroke="#6fb043" stroke-width="0.9" fill="none"/>
<circle cx="92.7" cy="533" r="1.9" fill="#6fb043"/>
<path d="M108.4,542 V549.5 M106.80000000000001,542 H110.0 M106.80000000000001,549.5 H110.0" stroke="#6fb043" stroke-width="0.9" fill="none"/>
<circle cx="108.4" cy="545.8" r="1.9" fill="#6fb043"/>
<circle cx="124.3" cy="568.9" r="1.9" fill="#6fb043"/>
<circle cx="140.5" cy="593.4" r="1.9" fill="#6fb043"/>
<circle cx="156.6" cy="600.3" r="1.9" fill="#6fb043"/>
<circle cx="172.3" cy="603" r="1.9" fill="#6fb043"/>
<path d="M92.7,503.7 V532.3 M91.10000000000001,503.7 H94.3 M91.10000000000001,532.3 H94.3" stroke="#2b4a87" stroke-width="0.9" fill="none"/>
<circle cx="92.7" cy="518.3" r="1.9" fill="#2b4a87"/>
<path d="M108.4,526 V535.5 M106.80000000000001,526 H110.0 M106.80000000000001,535.5 H110.0" stroke="#2b4a87" stroke-width="0.9" fill="none"/>
<circle cx="108.4" cy="530.8" r="1.9" fill="#2b4a87"/>
<path d="M124.3,533.5 V547 M122.7,533.5 H125.89999999999999 M122.7,547 H125.89999999999999" stroke="#2b4a87" stroke-width="0.9" fill="none"/>
<circle cx="124.3" cy="540.3" r="1.9" fill="#2b4a87"/>
<path d="M140.5,563.5 V573.5 M138.9,563.5 H142.1 M138.9,573.5 H142.1" stroke="#2b4a87" stroke-width="0.9" fill="none"/>
<circle cx="140.5" cy="568.9" r="1.9" fill="#2b4a87"/>
<rect x="154.79999999999998" y="589.7" width="3.6" height="3.6" fill="#2b4a87"/>
<circle cx="172.3" cy="600.8" r="1.9" fill="#2b4a87"/>
<circle cx="188.5" cy="603.1" r="1.9" fill="#2b4a87"/>
<circle cx="92.7" cy="509.2" r="1.9" fill="#b71c3d"/>
<circle cx="108.4" cy="517.2" r="1.9" fill="#b71c3d"/>
<circle cx="124.3" cy="532" r="1.9" fill="#b71c3d"/>
<path d="M140.5,551.5 V561.5 M138.9,551.5 H142.1 M138.9,561.5 H142.1" stroke="#b71c3d" stroke-width="0.9" fill="none"/>
<circle cx="140.5" cy="556.5" r="1.9" fill="#b71c3d"/>
<circle cx="156.6" cy="581.9" r="1.9" fill="#b71c3d"/>
<circle cx="172.3" cy="596.2" r="1.9" fill="#b71c3d"/>
<line x1="40" y1="495" x2="40" y2="604" stroke="#231f20" stroke-width="1.2"/>
<line x1="39.5" y1="603.5" x2="199.6" y2="603.5" stroke="#231f20" stroke-width="1.2"/>
<line x1="37.2" y1="603.5" x2="40" y2="603.5" stroke="#231f20" stroke-width="1"/>
<text x="34.8" y="606.1" font-size="7.99" text-anchor="end" fill="#111" stroke="#111" stroke-width="0.15">0</text>
<line x1="37.2" y1="582.4" x2="40" y2="582.4" stroke="#231f20" stroke-width="1"/>
<text x="34.8" y="585.0" font-size="7.99" text-anchor="end" fill="#111" stroke="#111" stroke-width="0.15" textLength="8.23" lengthAdjust="spacingAndGlyphs">20</text>
<line x1="37.2" y1="561.3" x2="40" y2="561.3" stroke="#231f20" stroke-width="1"/>
<text x="34.8" y="563.9" font-size="7.99" text-anchor="end" fill="#111" stroke="#111" stroke-width="0.15" textLength="8.23" lengthAdjust="spacingAndGlyphs">40</text>
<line x1="37.2" y1="540.2" x2="40" y2="540.2" stroke="#231f20" stroke-width="1"/>
<text x="34.8" y="542.8000000000001" font-size="7.99" text-anchor="end" fill="#111" stroke="#111" stroke-width="0.15" textLength="8.23" lengthAdjust="spacingAndGlyphs">60</text>
<line x1="37.2" y1="519.1" x2="40" y2="519.1" stroke="#231f20" stroke-width="1"/>
<text x="34.8" y="521.7" font-size="7.99" text-anchor="end" fill="#111" stroke="#111" stroke-width="0.15" textLength="8.23" lengthAdjust="spacingAndGlyphs">80</text>
<line x1="37.2" y1="498.0" x2="40" y2="498.0" stroke="#231f20" stroke-width="1"/>
<text x="34.8" y="500.6" font-size="7.99" text-anchor="end" fill="#111" stroke="#111" stroke-width="0.15" textLength="12.35" lengthAdjust="spacingAndGlyphs">100</text>
<line x1="66.5" y1="603.5" x2="66.5" y2="606.3" stroke="#231f20" stroke-width="1"/>
<text x="66.5" y="617.2" font-size="7.99" text-anchor="middle" fill="#111" stroke="#111" stroke-width="0.15">1</text>
<line x1="119.4" y1="603.5" x2="119.4" y2="606.3" stroke="#231f20" stroke-width="1"/>
<text x="119.4" y="617.2" font-size="7.99" text-anchor="middle" fill="#111" stroke="#111" stroke-width="0.15">2</text>
<line x1="172.3" y1="603.5" x2="172.3" y2="606.3" stroke="#231f20" stroke-width="1"/>
<text x="172.3" y="617.2" font-size="7.99" text-anchor="middle" fill="#111" stroke="#111" stroke-width="0.15">3</text>
<text x="78.75" y="630.2" font-size="10.3" text-anchor="start" fill="#111" stroke="#111" stroke-width="0.15" textLength="81.25" lengthAdjust="spacingAndGlyphs">Cytarabine (Log nM)</text>
<text x="15.5" y="571.6" font-size="9.9" text-anchor="start" fill="#111" stroke="#111" stroke-width="0.15" textLength="42.6" lengthAdjust="spacingAndGlyphs" transform="rotate(-90 15.5 571.6)">% viability</text>
<line x1="43.1" y1="575.8" x2="50" y2="575.8" stroke="#b71c3d" stroke-width="0.9"/>
<path d="M46.55,574.0 L48.3,575.8 L46.55,577.5999999999999 L44.8,575.8 Z" fill="#b71c3d"/>
<text x="53.1" y="578.3" font-size="8.4" text-anchor="start" fill="#111" stroke="#111" stroke-width="0.15" textLength="59.2" lengthAdjust="spacingAndGlyphs">WT overexpression</text>
<line x1="43.1" y1="586.6" x2="50" y2="586.6" stroke="#2b4a87" stroke-width="0.9"/>
<path d="M46.55,584.8000000000001 L48.3,586.6 L46.55,588.4 L44.8,586.6 Z" fill="#2b4a87"/>
<text x="53.1" y="589.1" font-size="8.4" text-anchor="start" fill="#111" stroke="#111" stroke-width="0.15" textLength="47.2" lengthAdjust="spacingAndGlyphs">PPM1D mutant</text>
<line x1="43.1" y1="598.6" x2="50" y2="598.6" stroke="#6fb043" stroke-width="0.9"/>
<path d="M46.55,596.8000000000001 L48.3,598.6 L46.55,600.4 L44.8,598.6 Z" fill="#6fb043"/>
<text x="53.1" y="601.1" font-size="8.4" text-anchor="start" fill="#111" stroke="#111" stroke-width="0.15" textLength="23.5" lengthAdjust="spacingAndGlyphs">Control</text>
<path d="M0.5,0 V640 M0,0.5 H520" stroke="#111" stroke-width="1"/>
<path d="M519,0 V640 M0,639 H520" stroke="#111" stroke-width="2"/>
</svg>
</body></html>
